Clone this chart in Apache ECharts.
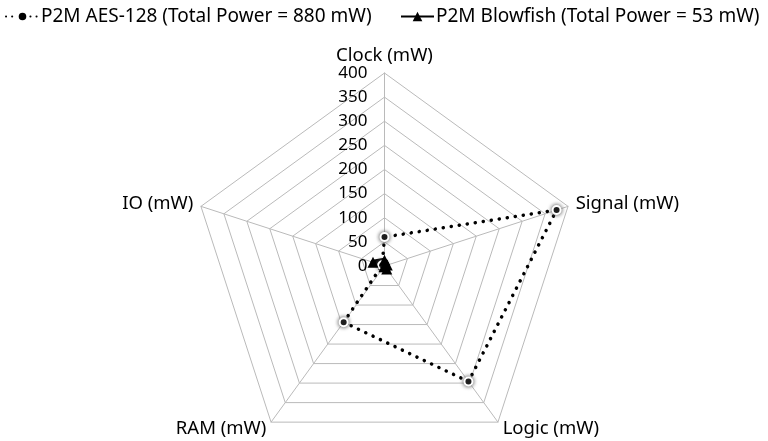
<!DOCTYPE html>
<html>
<head>
<meta charset="utf-8">
<script src="https://cdn.jsdelivr.net/npm/echarts@6/dist/echarts.min.js"></script>
<style>
  html, body { margin: 0; padding: 0; background: #fff; }
  #chart { width: 768px; height: 441px; }
</style>
</head>
<body>
<div id="chart"></div>
<script>
// axes in drawing order (counter-clockwise from the top)
const axisNames = ['Clock (mW)', 'IO (mW)', 'RAM (mW)', 'Logic (mW)', 'Signal (mW)']
const aesValues = [60, 5, 144, 296, 375]
const blowfishValues = [12, 25, 2, 8, 6]
const aesName = 'P2M AES-128 (Total Power = 880 mW)'
const blowfishName = 'P2M Blowfish (Total Power = 53 mW)'
const tickMax = 400
const tickStep = 50

const font = 'Noto Sans'
const gridColor = '#bababa'

const legendBase = {
  top: 7,
  width: 400,
  itemWidth: 33,
  itemHeight: 12,
  padding: 0,
  textStyle: { fontSize: 19, color: '#000', fontFamily: font, padding: [0, 0, 0, -3] }
}

const chart = echarts.init(document.getElementById('chart'))

chart.setOption({
  animation: false,
  textStyle: { fontFamily: font, color: '#000' },
  legend: [
    Object.assign({}, legendBase, { left: 5, data: [aesName] }),
    Object.assign({}, legendBase, { left: 400, data: [blowfishName] })
  ],
  // cartesian axis only used for the tick labels along the clock axis
  grid: { left: 384.5, top: 73, height: 193, width: 1 },
  xAxis: { type: 'value', show: false },
  yAxis: {
    type: 'value',
    min: 0,
    max: tickMax,
    interval: tickStep,
    axisLine: { show: false },
    axisTick: { show: false },
    splitLine: { show: false },
    axisLabel: { margin: 17, fontSize: 17, color: '#000', fontFamily: font }
  },
  radar: {
    center: [384.5, 266],
    radius: 193,
    startAngle: 90,
    shape: 'polygon',
    splitNumber: tickMax / tickStep,
    nameGap: 8,
    axisName: { color: '#000', fontSize: 18.5, fontFamily: font },
    indicator: axisNames.map(n => ({ name: n, min: 0, max: tickMax })),
    axisLine: { lineStyle: { color: gridColor, width: 1 } },
    splitLine: { lineStyle: { color: gridColor, width: 1 } },
    splitArea: { show: false }
  },
  series: [
    {
      // legend swatches
      name: aesName,
      type: 'line',
      data: [],
      symbol: 'circle',
      symbolSize: 8,
      itemStyle: { color: '#000', borderColor: '#fff', borderWidth: 2, shadowColor: '#666', shadowBlur: 3 },
      lineStyle: { color: '#000', width: 3, type: [0.1, 6], cap: 'round' }
    },
    {
      name: blowfishName,
      type: 'line',
      data: [],
      symbol: 'triangle',
      symbolSize: 11,
      itemStyle: { color: '#000' },
      lineStyle: { color: '#000', width: 4 }
    },
    {
      type: 'radar',
      silent: true,
      data: [
        {
          name: aesName,
          value: aesValues,
          symbol: 'circle',
          symbolSize: 8,
          itemStyle: { color: '#000', borderColor: '#fff', borderWidth: 2, shadowColor: '#555', shadowBlur: 4 },
          lineStyle: { color: '#000', width: 3.5, type: [0.1, 8], cap: 'round' }
        },
        {
          name: blowfishName,
          value: blowfishValues,
          symbol: 'triangle',
          symbolSize: 11,
          itemStyle: { color: '#000' },
          lineStyle: { color: '#000', width: 5 }
        }
      ]
    }
  ]
})
</script>
</body>
</html>
